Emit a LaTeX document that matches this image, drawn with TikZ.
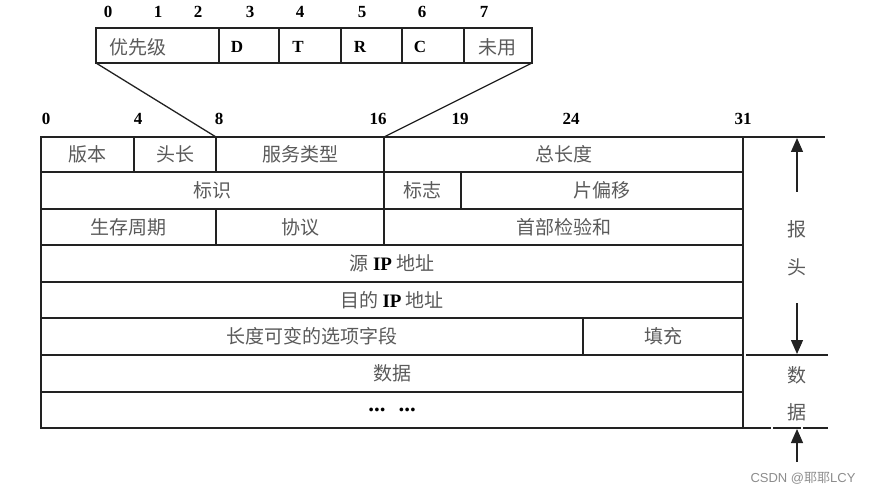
\documentclass[tikz,border=0pt]{standalone}
\usepackage{fontspec}
\setmainfont{Liberation Serif}
\newfontfamily\cjk{Noto Sans CJK SC}
\newfontfamily\wmfont{Liberation Sans}
\usetikzlibrary{positioning,arrows.meta}

\definecolor{field text}{HTML}{5A5A5A}
\definecolor{rule}{HTML}{222222}
\newcommand{\ipword}{{\normalfont\bfseries\color{black}IP}}
\tikzset{
  frame/.style={draw=rule, line width=1.3pt},
  field/.style={font=\cjk\fontsize{19}{21}\selectfont, text=field text, inner sep=0pt},
  bitno/.style={font=\fontsize{17}{19}\selectfont\bfseries, inner sep=0pt},
  flagbit/.style={font=\fontsize{17}{19}\selectfont\bfseries, inner sep=0pt},
  span arrow/.style={draw=rule, line width=1.3pt, -{Triangle[length=14pt,width=12pt]}},
}

\begin{document}
\begin{tikzpicture}[x=1pt,y=-1pt]
  \useasboundingbox (0,0) rectangle (872,494);

  % type of service byte
  \foreach \xa/\xb in {96/219, 219/279, 279/341, 341/402, 402/464, 464/532}
    \draw[frame] (\xa,28) rectangle (\xb,63);
  \coordinate (tos left) at (96,63);
  \coordinate (tos right) at (532,63);
  \foreach \b/\x in {0/108, 1/158, 2/198, 3/250, 4/300, 5/362, 6/422, 7/484}
    \node[bitno] (tosbit\b) at (\x,12) {\b};
  \node[field] (prio) at (138,47) {优先级};
  \node[flagbit] (flagD) at (237,47) {D};
  \node[flagbit] (flagT) at (298,47) {T};
  \node[flagbit] (flagR) at (360,47) {R};
  \node[flagbit] (flagC) at (420,47) {C};
  \node[field] (unused) at (497,47) {未用};

  % bit positions of the header
  \foreach \b/\x in {0/46, 4/138, 8/219, 16/378, 19/460, 24/571, 31/743}
    \node[bitno] (bit\b) at (\x,119) {\b};

  % header fields
  \foreach \nm/\xa/\xb/\ya/\yb/\txt in {
      ver/41/134/137/172/{版本},
      hlen/134/216/137/172/{头长},
      tos/216/384/137/172/{服务类型},
      total/384/743/137/172/{总长度},
      ident/41/384/172/209/{标识},
      flags/384/461/172/209/{标志},
      frag/461/743/172/209/{片偏移},
      ttl/41/216/209/245/{生存周期},
      proto/216/384/209/245/{协议},
      csum/384/743/209/245/{首部检验和},
      src/41/743/245/282/{源 \ipword\ 地址},
      dst/41/743/282/318/{目的 \ipword\ 地址},
      opts/41/583/318/355/{长度可变的选项字段},
      pad/583/743/318/355/{填充},
      data/41/743/355/392/{数据}} {
    \draw[frame] (\xa,\ya) rectangle (\xb,\yb);
    \node[field] (\nm) at ({(\xa+\xb)/2},{(\ya+\yb)/2}) {\txt};
  }
  \draw[frame] (41,392) rectangle (743,428);
  \node[font=\fontsize{23}{25}\selectfont\bfseries, inner sep=0pt] (more) at (392,410) {...\hspace{13pt}...};

  % ToS byte expands field 8..16
  \coordinate (tos start) at (216,137);
  \coordinate (tos end) at (384,137);
  \draw[frame] (tos left) -- (tos start);
  \draw[frame] (tos right) -- (tos end);

  % header / data extent
  \coordinate (hdr top) at (825,137);
  \coordinate (hdr bottom) at (828,355);
  \coordinate (data bottom) at (828,428);
  \draw[frame] (743,137) -- (hdr top);
  \draw[frame] (746,355) -- (hdr bottom);
  \draw[frame, dash pattern=on 28pt off 2pt] (743,428) -- (data bottom);

  \node[field] (bao) at (797,229) {报};
  \node[field] (tou) at (797,267) {头};
  \node[field] (shu) at (797,375) {数};
  \node[field] (ju) at (797,412) {据};

  \coordinate (up from) at (797,192);
  \coordinate (up to) at (797,138);
  \coordinate (down from) at (797,303);
  \coordinate (down to) at (797,354);
  \coordinate (tail from) at (797,462);
  \coordinate (tail to) at (797,429);
  \draw[span arrow] (up from) -- (up to);
  \draw[span arrow] (down from) -- (down to);
  \draw[span arrow] (tail from) -- (tail to);

  \node[font=\wmfont\fontsize{13}{15}\selectfont, text=black!45, inner sep=0pt] (mark) at (803,478) {CSDN @{\cjk 耶耶}LCY};
\end{tikzpicture}
\end{document}
